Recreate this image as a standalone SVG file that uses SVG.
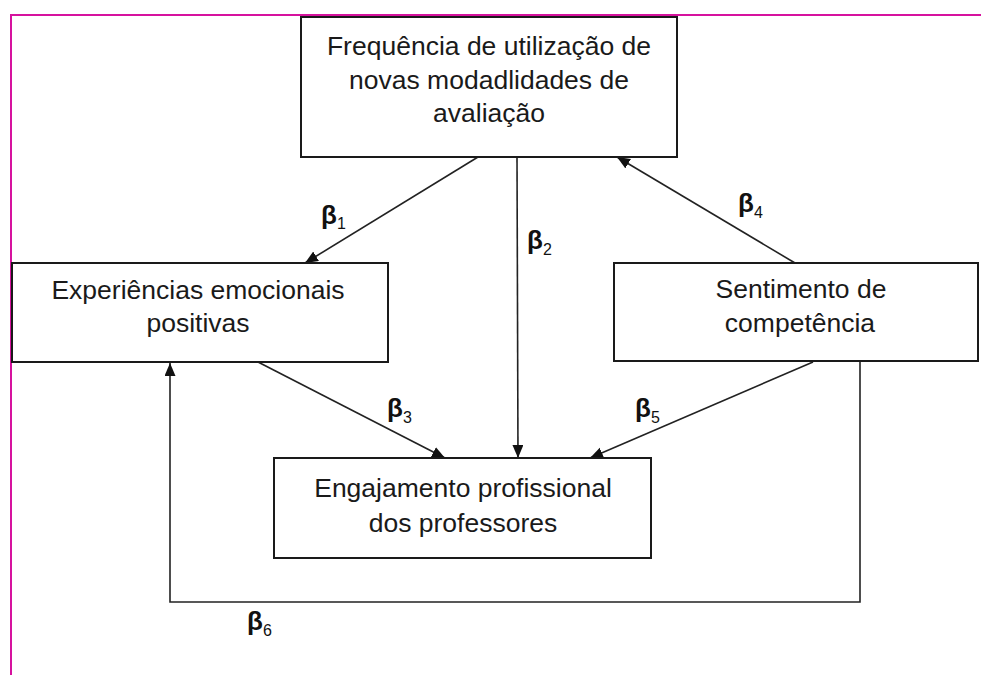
<svg xmlns="http://www.w3.org/2000/svg" width="981" height="675" viewBox="0 0 981 675">
<style>
.box{fill:#fff;stroke:#1a1a1a;stroke-width:2}
.t{font-family:"Liberation Sans",Arial,sans-serif;font-size:26.5px;fill:#1a1a1a;text-anchor:middle}
.c{fill:none;stroke:#222;stroke-width:1.6}
.b{font-family:"Liberation Sans",Arial,sans-serif;font-size:26px;font-weight:bold;fill:#111}
.s{font-family:"Liberation Sans",Arial,sans-serif;font-size:16px;fill:#111}
</style>
<defs>
<marker id="ah" markerUnits="userSpaceOnUse" markerWidth="14" markerHeight="12" refX="13" refY="5.5" orient="auto">
<path d="M0,0 L13,5.5 L0,11 z" fill="#111"/>
</marker>
</defs>
<rect width="981" height="675" fill="#fff"/>
<g id="frame">
<path d="M11,675 L11,15 L981,15" fill="none" stroke="#d6129e" stroke-width="2"/>
</g>
<g id="connectors">
<line class="c" x1="478" y1="157" x2="305" y2="263" marker-end="url(#ah)"/>
<line class="c" x1="517" y1="157" x2="518" y2="458" marker-end="url(#ah)"/>
<line class="c" x1="258" y1="362" x2="445" y2="458" marker-end="url(#ah)"/>
<line class="c" x1="795" y1="263" x2="617" y2="157" marker-end="url(#ah)"/>
<line class="c" x1="813" y1="362" x2="590" y2="458" marker-end="url(#ah)"/>
<polyline class="c" points="860,362 860,602 170,602 170,363" marker-end="url(#ah)"/>
<text class="b" x="321" y="224">β</text><text class="s" x="337" y="229">1</text>
<text class="b" x="527" y="249">β</text><text class="s" x="543" y="255">2</text>
<text class="b" x="387" y="417">β</text><text class="s" x="403" y="423">3</text>
<text class="b" x="738" y="212">β</text><text class="s" x="754" y="218">4</text>
<text class="b" x="635" y="417">β</text><text class="s" x="651" y="423">5</text>
<text class="b" x="247" y="630">β</text><text class="s" x="263" y="636">6</text>
</g>
<g id="node-frequencia">
<rect class="box" x="301" y="17" width="376" height="140"/>
<text class="t" x="489" y="55">Frequência de utilização de</text>
<text class="t" x="489" y="88.5">novas modadlidades de</text>
<text class="t" x="489" y="122">avaliação</text>
</g>
<g id="node-experiencias">
<rect class="box" x="12" y="263" width="376" height="99"/>
<text class="t" x="198" y="299">Experiências emocionais</text>
<text class="t" x="198" y="332">positivas</text>
</g>
<g id="node-sentimento">
<rect class="box" x="614" y="263" width="364" height="98"/>
<text class="t" x="801" y="298">Sentimento de</text>
<text class="t" x="800" y="332">competência</text>
</g>
<g id="node-engajamento">
<rect class="box" x="274" y="458" width="377" height="100"/>
<text class="t" x="463" y="497">Engajamento profissional</text>
<text class="t" x="463" y="532">dos professores</text>
</g>
</svg>
